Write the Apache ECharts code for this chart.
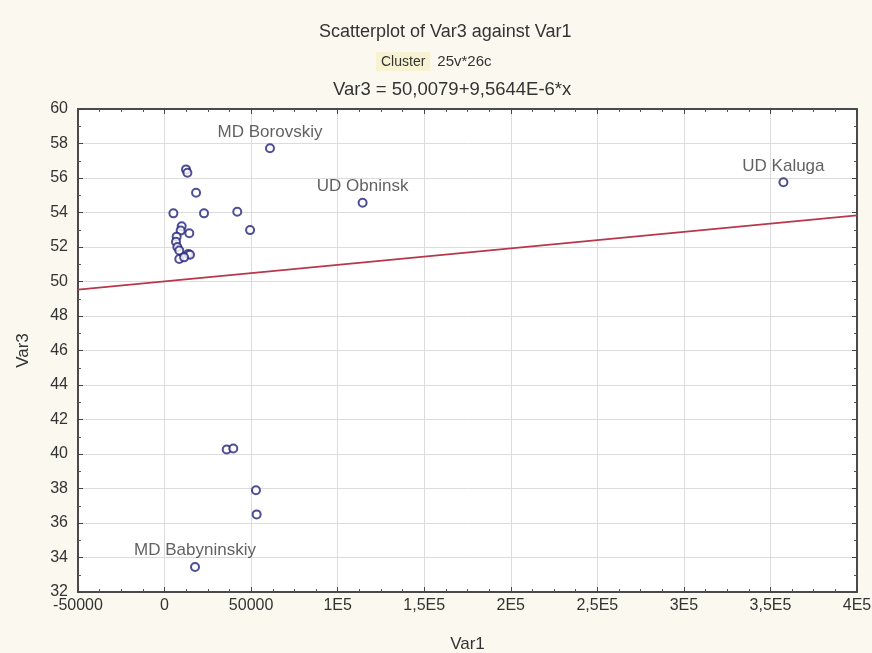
<!DOCTYPE html>
<html><head><meta charset="utf-8">
<script src="https://cdn.jsdelivr.net/npm/echarts@6/dist/echarts.min.js"></script>
<style>html,body{margin:0;padding:0;background:#fbf8ef}#c{width:872px;height:653px}</style>
</head><body><div id="c"></div>
<script>
// ---- data ----
const var1 = [12400, 13200, 18200, 5100, 22800, 42000, 49400, 9900, 14300, 9300,
              7000, 6600, 7400, 8500, 8500, 13700, 14700, 11300,
              60900, 114400, 357500, 17600, 35900, 39700, 52800, 53200];
const var3 = [56.5, 56.3, 55.15, 53.95, 53.95, 54.04, 52.98, 53.2, 52.8, 52.95,
              52.6, 52.3, 52.0, 51.8, 51.3, 51.6, 51.55, 51.4,
              57.72, 54.57, 55.75, 33.45, 40.26, 40.32, 37.9, 36.5];
const pointNames = ['', '', '', '', '', '', '', '', '', '',
                    '', '', '', '', '', '', '', '',
                    'MD Borovskiy', 'UD Obninsk', 'UD Kaluga', 'MD Babyninskiy', '', '', '', ''];
const xTickValues = [-50000, 0, 50000, 100000, 150000, 200000, 250000, 300000, 350000, 400000];
const xTickLabels = ['-50000', '0', '50000', '1E5', '1,5E5', '2E5', '2,5E5', '3E5', '3,5E5', '4E5'];
const yTickValues = [32, 34, 36, 38, 40, 42, 44, 46, 48, 50, 52, 54, 56, 58, 60];
const regIntercept = 50.0079;
const regSlope = 9.5644e-6;
const titleText = 'Scatterplot of Var3 against Var1';
const subText1 = 'Cluster';
const subText2 = '25v*26c';
const eqText = 'Var3 = 50,0079+9,5644E-6*x';

// ---- chart ----
const FONT = 'Liberation Sans';
const xMin = xTickValues[0], xMax = xTickValues[xTickValues.length - 1];
const regLine = [[xMin, regIntercept + regSlope * xMin], [xMax, regIntercept + regSlope * xMax]];

const chart = echarts.init(document.getElementById('c'));
const frame = {color: '#4a4a4a', width: 2};
const baseX = {
  type: 'value', min: xMin, max: xMax, interval: xTickValues[1] - xTickValues[0],
  axisLine: {show: true, onZero: false, lineStyle: frame},
  axisTick: {show: true, inside: true, length: 5, lineStyle: {color: '#444'}},
  minorTick: {show: true, splitNumber: 4, length: 3, lineStyle: {color: '#555'}},
};
const baseY = {
  type: 'value', min: yTickValues[0], max: yTickValues[yTickValues.length - 1], interval: yTickValues[1] - yTickValues[0],
  axisLine: {show: true, onZero: false, lineStyle: frame},
  axisTick: {show: true, inside: true, length: 5, lineStyle: {color: '#444'}},
  minorTick: {show: true, splitNumber: 2, length: 3, lineStyle: {color: '#555'}},
};

chart.setOption({
  backgroundColor: '#fbf8ef',
  animation: false,
  title: [
    {text: titleText, left: 314, top: 18,
     textStyle: {fontFamily: FONT, fontSize: 18, fontWeight: 'normal', color: '#333'}},
    {text: '{a|' + subText1 + '}{b|' + subText2 + '}', left: 371, top: 47,
     textStyle: {fontFamily: FONT, fontSize: 15, fontWeight: 'normal', color: '#333',
       rich: {a: {fontFamily: FONT, fontSize: 14, color: '#333', backgroundColor: '#f7f3d2', padding: [3, 5, 2, 5]},
              b: {fontFamily: FONT, fontSize: 15, color: '#333', padding: [0, 0, 0, 7]}}}},
    {text: eqText, left: 328, top: 75,
     textStyle: {fontFamily: FONT, fontSize: 18.5, fontWeight: 'normal', color: '#333'}}
  ],
  grid: {left: 78, right: 15, top: 109, bottom: 61, show: true, backgroundColor: '#ffffff', borderWidth: 0,
         outerBoundsMode: 'none', containLabel: false},
  xAxis: [
    Object.assign({}, baseX, {
      position: 'bottom', name: 'Var1', nameLocation: 'middle', nameGap: 44,
      nameTextStyle: {fontFamily: FONT, fontSize: 17, color: '#333'},
      splitLine: {show: true, lineStyle: {color: '#dcdcdc', width: 1}},
      axisLabel: {fontFamily: FONT, fontSize: 16, color: '#333', margin: 6,
        formatter: v => { const i = xTickValues.indexOf(v); return i >= 0 ? xTickLabels[i] : ''; }}
    }),
    Object.assign({}, baseX, {position: 'top', axisLabel: {show: false}, splitLine: {show: false}})
  ],
  yAxis: [
    Object.assign({}, baseY, {
      position: 'left', name: 'Var3', nameLocation: 'middle', nameGap: 46,
      nameTextStyle: {fontFamily: FONT, fontSize: 17, color: '#333'},
      splitLine: {show: true, lineStyle: {color: '#dcdcdc', width: 1}},
      axisLabel: {fontFamily: FONT, fontSize: 16, color: '#333', margin: 10}
    }),
    Object.assign({}, baseY, {position: 'right', axisLabel: {show: false}, splitLine: {show: false}})
  ],
  series: [
    {type: 'line', data: regLine, symbol: 'none', silent: true,
     lineStyle: {color: '#b8374c', width: 1.6}, z: 2},
    {type: 'scatter', symbol: 'emptyCircle', symbolSize: 8,
     itemStyle: {color: '#22227a', borderColor: '#22227a', borderWidth: 1.4},
     data: var1.map((x, i) => ({
       value: [x, var3[i]],
       label: {show: pointNames[i] !== '', formatter: pointNames[i]}
     })),
     label: {position: 'top', distance: 3, fontFamily: FONT, fontSize: 17, color: '#3a3a3a'},
     z: 3}
  ]
});
</script></body></html>
